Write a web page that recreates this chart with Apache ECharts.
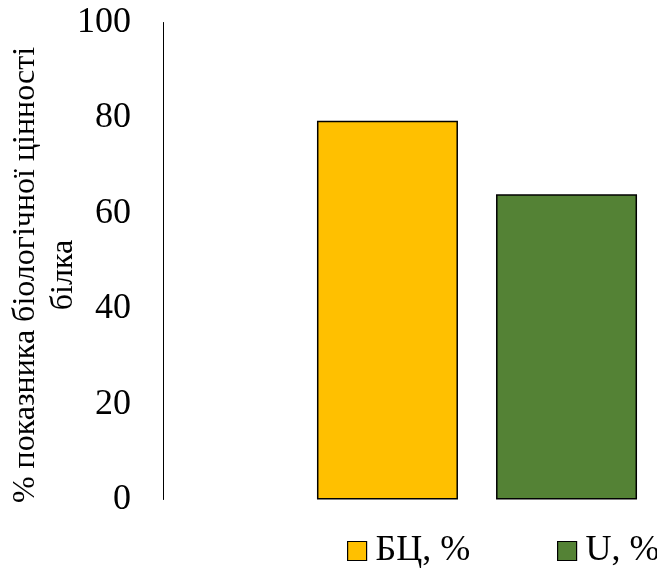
<!DOCTYPE html>
<html>
<head>
<meta charset="utf-8">
<script src="https://cdn.jsdelivr.net/npm/echarts@6/dist/echarts.min.js"></script>
<style>
  html, body { margin: 0; padding: 0; background: #fff; }
  #chart { width: 657px; height: 572px; }
</style>
</head>
<body>
<div id="chart"></div>
<script>
// Protein biological value indicators
const categories = [''];
const seriesNames = ['БЦ, %', 'U, %'];
const bcValues = [79.4];
const uValues = [64.0];
const yTicks = { min: 0, max: 100, interval: 20 };
const yTitle = '% показника біологічної цінності\nбілка';

const serif = '"Liberation Serif", "Times New Roman", serif';

// one legend block per series so each sits at its own spot
const legendLefts = [347, 557];
const legendBase = {
  top: 533,
  padding: 0,
  itemWidth: 19,
  itemHeight: 19,
  icon: 'rect',
  itemStyle: { borderColor: '#000', borderWidth: 1.2 },
  textStyle: { fontFamily: serif, fontSize: 36, color: '#000', padding: [0, 0, 0, 4] }
};

const chart = echarts.init(document.getElementById('chart'), null, { renderer: 'canvas' });
chart.setOption({
  animation: false,
  textStyle: { fontFamily: serif, color: '#000' },
  grid: {
    left: 317, right: 20, top: 22.5, bottom: 72.5,
    containLabel: false,
    outerBoundsMode: 'none'
  },
  legend: seriesNames.map((name, i) => Object.assign({}, legendBase, { left: legendLefts[i], data: [name] })),
  xAxis: {
    type: 'category',
    data: categories,
    axisLine: { show: false },
    axisTick: { show: false },
    axisLabel: { show: false }
  },
  yAxis: {
    type: 'value',
    min: yTicks.min,
    max: yTicks.max,
    interval: yTicks.interval,
    offset: 154,
    splitLine: { show: false },
    axisTick: { show: false },
    axisLine: { show: true, lineStyle: { color: '#000', width: 1 } },
    axisLabel: { fontFamily: serif, fontSize: 36, color: '#000', margin: 32 },
    name: yTitle,
    nameLocation: 'middle',
    nameRotate: 90,
    nameGap: 80,
    nameMoveOverlap: false,
    nameTextStyle: { fontFamily: serif, fontSize: 32, color: '#000', lineHeight: 38, align: 'center', padding: [0, 28, 0, 0] }
  },
  series: [
    {
      name: seriesNames[0],
      type: 'bar',
      data: bcValues,
      barWidth: 141,
      barGap: '27%',
      itemStyle: { color: '#FFC000', borderColor: '#000', borderWidth: 1.5 }
    },
    {
      name: seriesNames[1],
      type: 'bar',
      data: uValues,
      barWidth: 141,
      barGap: '27%',
      itemStyle: { color: '#548235', borderColor: '#000', borderWidth: 1.5 }
    }
  ]
});
</script>
</body>
</html>
